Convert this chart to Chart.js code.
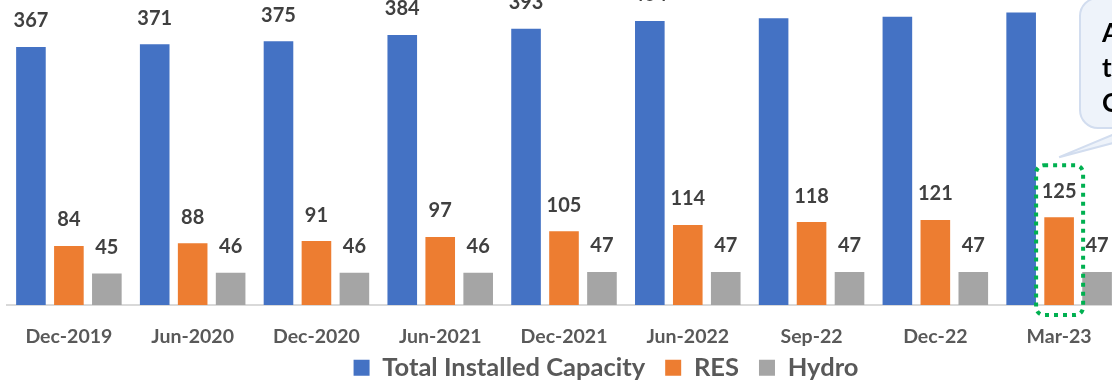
<!DOCTYPE html>
<html>
<head>
<meta charset="utf-8">
<script src="https://cdn.jsdelivr.net/npm/chart.js@4.4.1/dist/chart.umd.min.js"></script>
<style>
  html, body { margin: 0; padding: 0; background: #ffffff; overflow: hidden; }
  #frame { position: relative; width: 1112px; height: 382px; overflow: hidden; }
  #wrap { position: absolute; left: 0; top: -40px; width: 1160px; height: 488px; }
</style>
</head>
<body>
<div id="frame"><div id="wrap"><canvas id="cap" width="1160" height="488"></canvas></div></div>
<script>
// Installed capacity (GW) by period
const periods = ['Dec-2019', 'Jun-2020', 'Dec-2020', 'Jun-2021', 'Dec-2021', 'Jun-2022', 'Sep-22', 'Dec-22', 'Mar-23'];
const totalCapacity = [367, 371, 375, 384, 393, 404, 408, 410, 416];
const resCapacity = [84, 88, 91, 97, 105, 114, 118, 121, 125];
const hydroCapacity = [45, 46, 46, 46, 47, 47, 47, 47, 47];
const seriesNames = ['Total Installed Capacity', 'RES', 'Hydro'];
const calloutLetters = ['A', 't', 'C'];

const FONT = 'Lato';

// value labels above each bar
const barValueLabels = {
  id: 'barValueLabels',
  afterDatasetsDraw(chart) {
    const ctx = chart.ctx;
    ctx.save();
    ctx.font = 'bold 20px ' + FONT;
    ctx.fillStyle = '#404040';
    ctx.textAlign = 'center';
    ctx.textBaseline = 'middle';
    chart.data.datasets.forEach((ds, di) => {
      const meta = chart.getDatasetMeta(di);
      meta.data.forEach((bar, i) => {
        ctx.fillText(String(ds.data[i]), bar.x, bar.y - 26);
      });
    });
    ctx.restore();
  }
};

function roundRectPath(ctx, x, y, w, h, r) {
  ctx.beginPath();
  ctx.moveTo(x + r, y);
  ctx.lineTo(x + w - r, y);
  ctx.arcTo(x + w, y, x + w, y + r, r);
  ctx.lineTo(x + w, y + h - r);
  ctx.arcTo(x + w, y + h, x + w - r, y + h, r);
  ctx.lineTo(x + r, y + h);
  ctx.arcTo(x, y + h, x, y + h - r, r);
  ctx.lineTo(x, y + r);
  ctx.arcTo(x, y, x + r, y, r);
  ctx.closePath();
}

// highlight around the latest RES bar and the callout pointing at it
const highlight = {
  id: 'highlight',
  afterDraw(chart) {
    const ctx = chart.ctx;
    const last = periods.length - 1;
    const bar = chart.getDatasetMeta(1).data[last];
    const base = chart.scales.y.getPixelForValue(0);
    const left = bar.x - 23, right = bar.x + 24;
    const top = bar.y - 52, bottom = base + 10;

    ctx.save();
    // dotted green frame
    ctx.strokeStyle = '#00b050';
    ctx.lineWidth = 4;
    ctx.setLineDash([4, 5]);
    roundRectPath(ctx, left, top, right - left, bottom - top, 8);
    ctx.stroke();
    ctx.setLineDash([]);

    // callout bubble with a thin tail down to the frame
    const bx = 1080, by = 38, bw = 200, bh = 130;
    const tipX = bar.x, tipY = top - 8;
    ctx.fillStyle = '#eef3fa';
    ctx.strokeStyle = '#d2ddef';
    ctx.lineWidth = 2;
    ctx.beginPath();
    ctx.moveTo(bx + 49, by + bh);
    ctx.lineTo(tipX, tipY);
    ctx.lineTo(bx + 90, by + bh);
    ctx.closePath();
    ctx.fill();
    ctx.stroke();
    roundRectPath(ctx, bx, by, bw, bh, 18);
    ctx.fill();
    ctx.stroke();
    ctx.beginPath();
    ctx.moveTo(bx + 50, by + bh - 1.5);
    ctx.lineTo(bx + 89, by + bh - 1.5);
    ctx.lineTo(bx + 70, by + bh + 4);
    ctx.closePath();
    ctx.fill();

    ctx.fillStyle = '#000000';
    ctx.font = 'bold 26px ' + FONT;
    ctx.textAlign = 'left';
    ctx.textBaseline = 'alphabetic';
    calloutLetters.forEach((ch, i) => {
      ctx.fillText(ch, 1102, by + 44 + i * 35);
    });
    ctx.restore();
  }
};

// place the legend: centred under the whole figure, fixed distance below the axis
const legendPlace = {
  id: 'legendPlace',
  afterLayout(chart) {
    const lg = chart.legend;
    if (!lg) return;
    lg.left += 42;
    lg.right += 42;
    const h = lg.bottom - lg.top;
    lg.top = chart.chartArea.bottom + 30;
    lg.bottom = lg.top + h;
  }
};

new Chart(document.getElementById('cap'), {
  type: 'bar',
  data: {
    labels: periods,
    datasets: [
      { label: seriesNames[0], data: totalCapacity, backgroundColor: '#4472c4' },
      { label: seriesNames[1], data: resCapacity, backgroundColor: '#ed7d31' },
      { label: seriesNames[2], data: hydroCapacity, backgroundColor: '#a5a5a5' }
    ]
  },
  options: {
    responsive: false,
    animation: false,
    devicePixelRatio: 1,
    categoryPercentage: 0.92,
    barPercentage: 0.78,
    layout: { padding: { left: 7, right: 39, top: 7.5, bottom: 24 } },
    scales: {
      x: {
        grid: { display: false, drawTicks: false },
        border: { display: true, color: '#d9d9d9', width: 2 },
        ticks: { color: '#595959', font: { family: FONT, weight: 'bold', size: 19.5 }, padding: 20, maxRotation: 0, autoSkip: false }
      },
      y: { display: false, min: 0, max: 480 }
    },
    plugins: {
      legend: {
        position: 'bottom',
        labels: {
          color: '#595959',
          font: { family: FONT, weight: 'bold', size: 25.5 },
          boxWidth: 16,
          boxHeight: 16,
          padding: 20
        }
      },
      tooltip: { enabled: false }
    }
  },
  plugins: [barValueLabels, highlight, legendPlace]
});
</script>
</body>
</html>
